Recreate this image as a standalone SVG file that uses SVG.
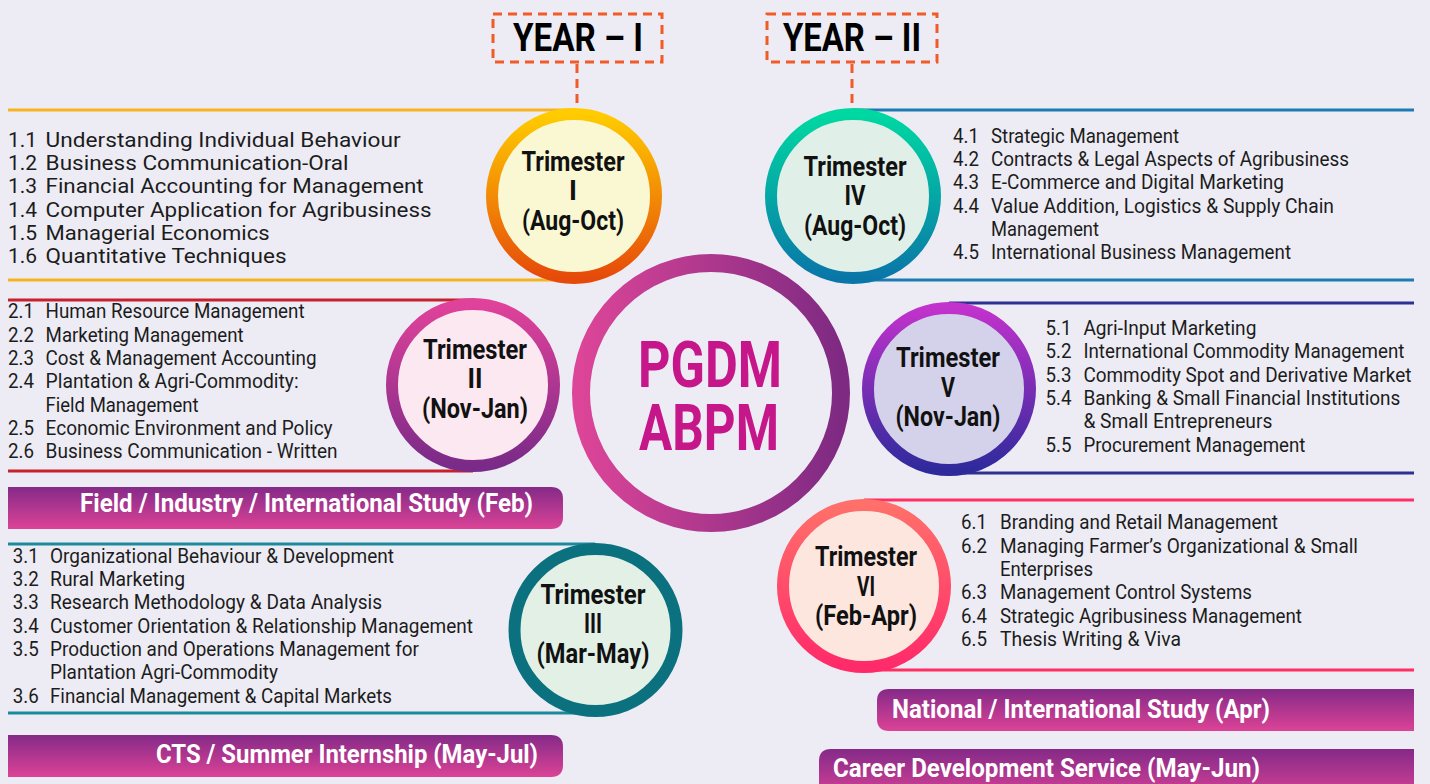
<svg xmlns="http://www.w3.org/2000/svg" width="1430" height="784" viewBox="0 0 1430 784">
<defs>
<style>
.it{font-family:Roboto,"Liberation Sans",sans-serif;font-size:20px;fill:#1c1c1c}
.it1{font-family:Roboto,"Liberation Sans",sans-serif;font-size:21px;fill:#1c1c1c}
.tri{font-family:Roboto,"Liberation Sans",sans-serif;font-weight:700;font-size:27px;fill:#111;text-anchor:middle}
.ban{font-family:Roboto,"Liberation Sans",sans-serif;font-weight:700;font-size:25px;fill:#fff}
.yr{font-family:Roboto,"Liberation Sans",sans-serif;font-weight:700;font-size:38px;fill:#000;text-anchor:middle}
.core{font-family:Roboto,"Liberation Sans",sans-serif;font-weight:700;font-size:64px;fill:#C5168A;text-anchor:middle}
.dash{fill:none;stroke:#F15A29;stroke-width:3;stroke-dasharray:9 6}
.ring{stroke-width:12}
.hl{stroke-width:3;fill:none}
</style>
<linearGradient id="gI" x1="0" y1="0" x2="0" y2="1"><stop offset="0" stop-color="#FFCC00"/><stop offset="1" stop-color="#E64A0A"/></linearGradient>
<linearGradient id="gII" x1="0" y1="0" x2="0" y2="1"><stop offset="0" stop-color="#E0429A"/><stop offset="1" stop-color="#7A2A88"/></linearGradient>
<linearGradient id="gIV" x1="0" y1="0" x2="0" y2="1"><stop offset="0" stop-color="#00D8A2"/><stop offset="1" stop-color="#0A76A8"/></linearGradient>
<linearGradient id="gV" x1="0" y1="0" x2="0" y2="1"><stop offset="0" stop-color="#C232CC"/><stop offset="1" stop-color="#2E2A9C"/></linearGradient>
<linearGradient id="gVI" x1="0" y1="0" x2="0" y2="1"><stop offset="0" stop-color="#FF706A"/><stop offset="1" stop-color="#FF2A6A"/></linearGradient>
<linearGradient id="gC" x1="0" y1="0" x2="1" y2="0"><stop offset="0" stop-color="#DC4598"/><stop offset="1" stop-color="#7E2A82"/></linearGradient>
<linearGradient id="gB" x1="0" y1="0" x2="0" y2="1"><stop offset="0" stop-color="#842A88"/><stop offset="1" stop-color="#DC4396"/></linearGradient>
</defs>
<rect width="1430" height="784" fill="#EDECF5"/>

<g id="connectors">
<line class="dash" x1="577" y1="64" x2="577" y2="108"/>
<line class="dash" x1="852" y1="64" x2="852" y2="108"/>
</g>

<g id="year1">
<rect class="dash" x="493" y="14" width="169" height="48"/>
<text class="yr" x="578" y="51" textLength="130" lengthAdjust="spacingAndGlyphs">YEAR – I</text>
</g>
<g id="year2">
<rect class="dash" x="767" y="14" width="170" height="48"/>
<text class="yr" x="852" y="51" textLength="138" lengthAdjust="spacingAndGlyphs">YEAR – II</text>
</g>

<g id="center">
<circle cx="711" cy="393" r="130" fill="#EDECF5" stroke="url(#gC)" stroke-width="18"/>
<text class="core"><tspan x="710" y="387" textLength="144" lengthAdjust="spacingAndGlyphs">PGDM</tspan><tspan x="709" y="450" textLength="140" lengthAdjust="spacingAndGlyphs">ABPM</tspan></text>
</g>

<g id="trimester1">
<line class="hl" stroke="#F6B31F" x1="8" y1="110" x2="574" y2="110"/>
<line class="hl" stroke="#F6B31F" x1="8" y1="280" x2="574" y2="280"/>
<circle class="ring" cx="574" cy="196" r="82" fill="#FAF8D2" stroke="url(#gI)"/>
<text class="tri" x="573" y="171" textLength="103" lengthAdjust="spacingAndGlyphs">Trimester</text>
<text class="tri" x="573" y="200">I</text>
<text class="tri" x="573" y="230" textLength="102" lengthAdjust="spacingAndGlyphs">(Aug-Oct)</text>
<g class="it1">
<text x="8" y="147">1.1</text><text x="45.6" y="147" textLength="355" lengthAdjust="spacingAndGlyphs">Understanding Individual Behaviour</text>
<text x="8" y="170">1.2</text><text x="45.6" y="170" textLength="303" lengthAdjust="spacingAndGlyphs">Business Communication-Oral</text>
<text x="8" y="193">1.3</text><text x="45.6" y="193" textLength="378" lengthAdjust="spacingAndGlyphs">Financial Accounting for Management</text>
<text x="8" y="217">1.4</text><text x="45.6" y="217" textLength="386" lengthAdjust="spacingAndGlyphs">Computer Application for Agribusiness</text>
<text x="8" y="240">1.5</text><text x="45.6" y="240" textLength="224" lengthAdjust="spacingAndGlyphs">Managerial Economics</text>
<text x="8" y="263">1.6</text><text x="45.6" y="263" textLength="241" lengthAdjust="spacingAndGlyphs">Quantitative Techniques</text>
</g>
</g>

<g id="trimester2">
<line class="hl" stroke="#C8202F" x1="8" y1="300" x2="473" y2="300"/>
<line class="hl" stroke="#C8202F" x1="8" y1="471" x2="473" y2="471"/>
<circle class="ring" cx="473" cy="385" r="81" fill="#FCE8F0" stroke="url(#gII)" stroke-width="11"/>
<text class="tri" x="475" y="359" textLength="104" lengthAdjust="spacingAndGlyphs">Trimester</text>
<text class="tri" x="475" y="388" textLength="15" lengthAdjust="spacingAndGlyphs">II</text>
<text class="tri" x="475" y="418" textLength="106" lengthAdjust="spacingAndGlyphs">(Nov-Jan)</text>
<g class="it">
<text x="8" y="318" textLength="26" lengthAdjust="spacingAndGlyphs">2.1</text><text x="45.6" y="318" textLength="259" lengthAdjust="spacingAndGlyphs">Human Resource Management</text>
<text x="8" y="342" textLength="26" lengthAdjust="spacingAndGlyphs">2.2</text><text x="45.6" y="342" textLength="198" lengthAdjust="spacingAndGlyphs">Marketing Management</text>
<text x="8" y="365" textLength="26" lengthAdjust="spacingAndGlyphs">2.3</text><text x="45.6" y="365" textLength="271" lengthAdjust="spacingAndGlyphs">Cost &amp; Management Accounting</text>
<text x="8" y="388" textLength="26" lengthAdjust="spacingAndGlyphs">2.4</text><text x="45.6" y="388" textLength="253" lengthAdjust="spacingAndGlyphs">Plantation &amp; Agri-Commodity:</text>
<text x="45.6" y="412" textLength="153" lengthAdjust="spacingAndGlyphs">Field Management</text>
<text x="8" y="435" textLength="26" lengthAdjust="spacingAndGlyphs">2.5</text><text x="45.6" y="435" textLength="287" lengthAdjust="spacingAndGlyphs">Economic Environment and Policy</text>
<text x="8" y="458" textLength="26" lengthAdjust="spacingAndGlyphs">2.6</text><text x="45.6" y="458" textLength="292" lengthAdjust="spacingAndGlyphs">Business Communication - Written</text>
</g>
</g>

<g id="field-study">
<path d="M8,487 H551 Q563,487 563,499 V517 Q563,529 551,529 H8 Z" fill="url(#gB)"/>
<text class="ban" x="80" y="512" textLength="453" lengthAdjust="spacingAndGlyphs">Field / Industry / International Study (Feb)</text>
</g>

<g id="trimester3">
<line class="hl" stroke="#1B8A9B" x1="8" y1="544" x2="595" y2="544"/>
<line class="hl" stroke="#1B8A9B" x1="8" y1="713" x2="595" y2="713"/>
<circle class="ring" cx="595.5" cy="630" r="81" fill="#E2F0E6" stroke="#0B717F" stroke-width="13"/>
<text class="tri" x="593" y="604" textLength="105" lengthAdjust="spacingAndGlyphs">Trimester</text>
<text class="tri" x="593" y="633" textLength="18" lengthAdjust="spacingAndGlyphs">III</text>
<text class="tri" x="593" y="663" textLength="113" lengthAdjust="spacingAndGlyphs">(Mar-May)</text>
<g class="it">
<text x="12.8" y="563" textLength="26" lengthAdjust="spacingAndGlyphs">3.1</text><text x="50" y="563" textLength="344" lengthAdjust="spacingAndGlyphs">Organizational Behaviour &amp; Development</text>
<text x="12.8" y="586" textLength="26" lengthAdjust="spacingAndGlyphs">3.2</text><text x="50" y="586" textLength="135" lengthAdjust="spacingAndGlyphs">Rural Marketing</text>
<text x="12.8" y="609" textLength="26" lengthAdjust="spacingAndGlyphs">3.3</text><text x="50" y="609" textLength="332" lengthAdjust="spacingAndGlyphs">Research Methodology &amp; Data Analysis</text>
<text x="12.8" y="633" textLength="26" lengthAdjust="spacingAndGlyphs">3.4</text><text x="50" y="633" textLength="423" lengthAdjust="spacingAndGlyphs">Customer Orientation &amp; Relationship Management</text>
<text x="12.8" y="656" textLength="26" lengthAdjust="spacingAndGlyphs">3.5</text><text x="50" y="656" textLength="369" lengthAdjust="spacingAndGlyphs">Production and Operations Management for</text>
<text x="50" y="679" textLength="228" lengthAdjust="spacingAndGlyphs">Plantation Agri-Commodity</text>
<text x="12.8" y="703" textLength="26" lengthAdjust="spacingAndGlyphs">3.6</text><text x="50" y="703" textLength="342" lengthAdjust="spacingAndGlyphs">Financial Management &amp; Capital Markets</text>
</g>
</g>

<g id="summer-internship">
<path d="M8,735 H551 Q563,735 563,747 V765 Q563,777 551,777 H8 Z" fill="url(#gB)"/>
<text class="ban" x="156" y="763" textLength="382" lengthAdjust="spacingAndGlyphs">CTS / Summer Internship (May-Jul)</text>
</g>

<g id="trimester4">
<line class="hl" stroke="#1C7BB2" x1="853" y1="110" x2="1414" y2="110"/>
<line class="hl" stroke="#1C7BB2" x1="853" y1="280" x2="1414" y2="280"/>
<circle class="ring" cx="853" cy="196" r="82" fill="#E0F0E8" stroke="url(#gIV)"/>
<text class="tri" x="855" y="176" textLength="103" lengthAdjust="spacingAndGlyphs">Trimester</text>
<text class="tri" x="855" y="205" textLength="21" lengthAdjust="spacingAndGlyphs">IV</text>
<text class="tri" x="855" y="235" textLength="102" lengthAdjust="spacingAndGlyphs">(Aug-Oct)</text>
<g class="it">
<text x="953" y="143" textLength="26" lengthAdjust="spacingAndGlyphs">4.1</text><text x="991" y="143" textLength="188" lengthAdjust="spacingAndGlyphs">Strategic Management</text>
<text x="953" y="166" textLength="26" lengthAdjust="spacingAndGlyphs">4.2</text><text x="991" y="166" textLength="358" lengthAdjust="spacingAndGlyphs">Contracts &amp; Legal Aspects of Agribusiness</text>
<text x="953" y="189" textLength="26" lengthAdjust="spacingAndGlyphs">4.3</text><text x="991" y="189" textLength="293" lengthAdjust="spacingAndGlyphs">E-Commerce and Digital Marketing</text>
<text x="953" y="213" textLength="26" lengthAdjust="spacingAndGlyphs">4.4</text><text x="991" y="213" textLength="343" lengthAdjust="spacingAndGlyphs">Value Addition, Logistics &amp; Supply Chain</text>
<text x="991" y="236" textLength="108" lengthAdjust="spacingAndGlyphs">Management</text>
<text x="953" y="259" textLength="26" lengthAdjust="spacingAndGlyphs">4.5</text><text x="991" y="259" textLength="300" lengthAdjust="spacingAndGlyphs">International Business Management</text>
</g>
</g>

<g id="trimester5">
<line class="hl" stroke="#2E3192" x1="949" y1="303" x2="1414" y2="303"/>
<line class="hl" stroke="#2E3192" x1="949" y1="473" x2="1414" y2="473"/>
<circle class="ring" cx="949" cy="389" r="81" fill="#D4D2EA" stroke="url(#gV)" stroke-width="11"/>
<text class="tri" x="948" y="367" textLength="104" lengthAdjust="spacingAndGlyphs">Trimester</text>
<text class="tri" x="948" y="397" textLength="14" lengthAdjust="spacingAndGlyphs">V</text>
<text class="tri" x="948" y="426" textLength="105" lengthAdjust="spacingAndGlyphs">(Nov-Jan)</text>
<g class="it">
<text x="1045.6" y="335" textLength="26" lengthAdjust="spacingAndGlyphs">5.1</text><text x="1083.4" y="335" textLength="173" lengthAdjust="spacingAndGlyphs">Agri-Input Marketing</text>
<text x="1045.6" y="358" textLength="26" lengthAdjust="spacingAndGlyphs">5.2</text><text x="1083.4" y="358" textLength="321" lengthAdjust="spacingAndGlyphs">International Commodity Management</text>
<text x="1045.6" y="382" textLength="26" lengthAdjust="spacingAndGlyphs">5.3</text><text x="1083.4" y="382" textLength="328" lengthAdjust="spacingAndGlyphs">Commodity Spot and Derivative Market</text>
<text x="1045.6" y="405" textLength="26" lengthAdjust="spacingAndGlyphs">5.4</text><text x="1083.4" y="405" textLength="317" lengthAdjust="spacingAndGlyphs">Banking &amp; Small Financial Institutions</text>
<text x="1083.4" y="428" textLength="189" lengthAdjust="spacingAndGlyphs">&amp; Small Entrepreneurs</text>
<text x="1045.6" y="452" textLength="26" lengthAdjust="spacingAndGlyphs">5.5</text><text x="1083.4" y="452" textLength="222" lengthAdjust="spacingAndGlyphs">Procurement Management</text>
</g>
</g>

<g id="trimester6">
<line class="hl" stroke="#FF2E63" x1="864" y1="500" x2="1414" y2="500"/>
<line class="hl" stroke="#FF2E63" x1="864" y1="670" x2="1414" y2="670"/>
<circle class="ring" cx="864" cy="586" r="81" fill="#FDE6DE" stroke="url(#gVI)" stroke-width="12"/>
<text class="tri" x="866" y="566" textLength="102" lengthAdjust="spacingAndGlyphs">Trimester</text>
<text class="tri" x="866" y="596" textLength="18" lengthAdjust="spacingAndGlyphs">VI</text>
<text class="tri" x="866" y="625" textLength="102" lengthAdjust="spacingAndGlyphs">(Feb-Apr)</text>
<g class="it">
<text x="961" y="529" textLength="26" lengthAdjust="spacingAndGlyphs">6.1</text><text x="1000" y="529" textLength="278" lengthAdjust="spacingAndGlyphs">Branding and Retail Management</text>
<text x="961" y="553" textLength="26" lengthAdjust="spacingAndGlyphs">6.2</text><text x="1000" y="553" textLength="358" lengthAdjust="spacingAndGlyphs">Managing Farmer’s Organizational &amp; Small</text>
<text x="1000" y="576" textLength="93" lengthAdjust="spacingAndGlyphs">Enterprises</text>
<text x="961" y="599" textLength="26" lengthAdjust="spacingAndGlyphs">6.3</text><text x="1000" y="599" textLength="252" lengthAdjust="spacingAndGlyphs">Management Control Systems</text>
<text x="961" y="623" textLength="26" lengthAdjust="spacingAndGlyphs">6.4</text><text x="1000" y="623" textLength="302" lengthAdjust="spacingAndGlyphs">Strategic Agribusiness Management</text>
<text x="961" y="646" textLength="26" lengthAdjust="spacingAndGlyphs">6.5</text><text x="1000" y="646" textLength="181" lengthAdjust="spacingAndGlyphs">Thesis Writing &amp; Viva</text>
</g>
</g>

<g id="national-study">
<path d="M1414,689 H889 Q877,689 877,701 V719 Q877,731 889,731 H1414 Z" fill="url(#gB)"/>
<text class="ban" x="892" y="718" textLength="378" lengthAdjust="spacingAndGlyphs">National / International Study (Apr)</text>
</g>

<g id="career-service">
<path d="M1414,749 H831 Q819,749 819,761 V800 H1414 Z" fill="url(#gB)"/>
<text class="ban" x="833" y="777" textLength="427" lengthAdjust="spacingAndGlyphs">Career Development Service (May-Jun)</text>
</g>
</svg>
